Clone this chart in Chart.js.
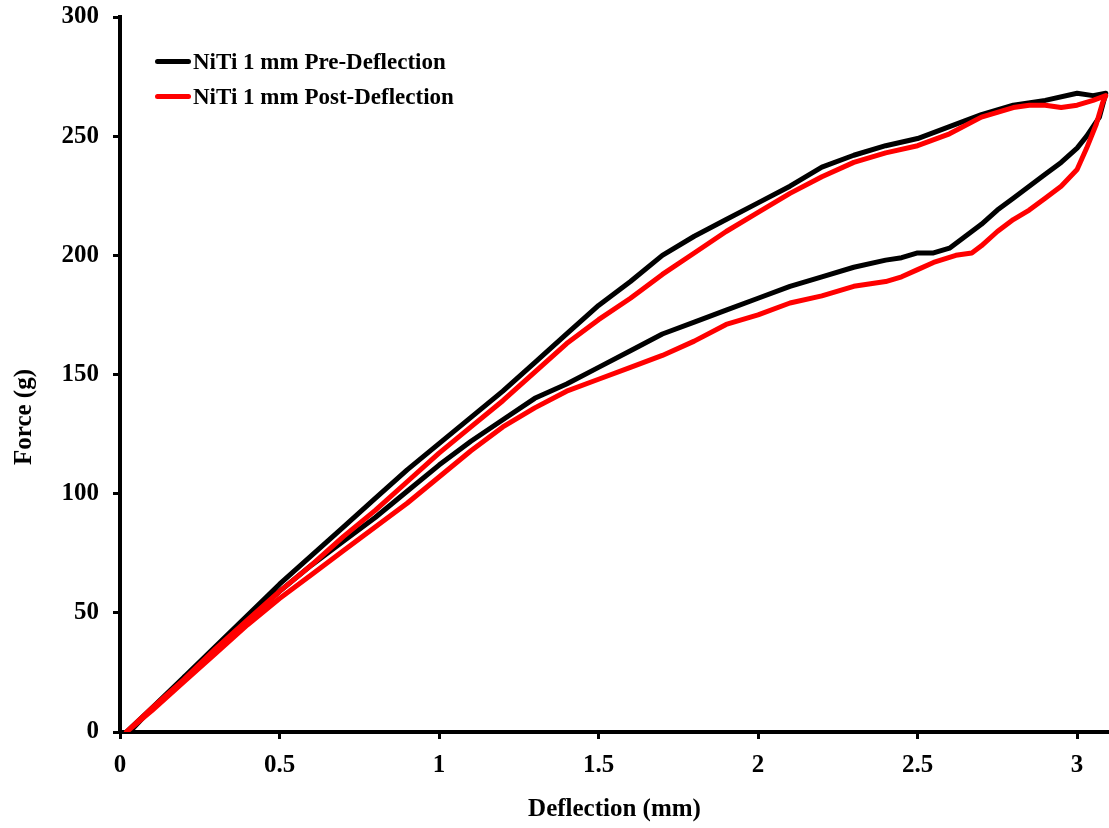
<!DOCTYPE html>
<html>
<head>
<meta charset="utf-8">
<script src="https://cdn.jsdelivr.net/npm/chart.js@4"></script>
<style>
    body { margin: 0; background: #fff; }
    #wrap { position: relative; width: 1109px; height: 828px; }
    #legend { position: absolute; left: 155px; top: 44px; font-family: 'Liberation Serif', 'Times New Roman', serif; font-weight: bold; font-size: 23px; }
    .leg-row { display: flex; align-items: center; height: 35px; white-space: nowrap; }
    .leg-line { width: 36px; height: 5px; border-radius: 3px; margin-right: 2px; }
    #ytitle { position: absolute; left: 23px; top: 417px; transform: translate(-50%, -50%) rotate(-90deg);
        font-family: 'Liberation Serif', 'Times New Roman', serif; font-weight: bold; font-size: 25px; white-space: nowrap; }
</style>
</head>
<body>
<div id="wrap">
    <canvas id="chart" width="1109" height="828"></canvas>
    <div id="legend"></div>
    <div id="ytitle"></div>
</div>
<script>
let seriesNames = ['NiTi 1 mm Pre-Deflection', 'NiTi 1 mm Post-Deflection'];
let seriesColors = ['#000000', '#ff0000'];
let xTitle = 'Deflection (mm)';
let yTitle = 'Force (g)';
let xTickLabels = ['0', '0.5', '1', '1.5', '2', '2.5', '3'];
let yTickLabels = ['0', '50', '100', '150', '200', '250', '300'];

// loading branch followed by unloading branch (one closed loop per series)
let preX = [0.02, 0.1, 0.2, 0.3, 0.4, 0.5, 0.6, 0.7, 0.8, 0.9, 1.0, 1.1, 1.2, 1.3, 1.4, 1.5, 1.6, 1.7, 1.8, 1.9, 2.0, 2.1, 2.2, 2.3, 2.4, 2.5, 2.6, 2.7, 2.8, 2.9, 3.0, 3.05, 3.09,
    3.07, 3.03, 3.0, 2.95, 2.9, 2.85, 2.8, 2.75, 2.7, 2.65, 2.6, 2.55, 2.5, 2.45, 2.4, 2.3, 2.2, 2.1, 2.0, 1.9, 1.8, 1.7, 1.6, 1.5, 1.4, 1.3, 1.2, 1.1, 1.0, 0.9, 0.8, 0.7, 0.6, 0.5, 0.4, 0.3, 0.2, 0.1, 0.03];
let preY = [0, 10, 23, 36, 49, 62, 74, 86, 98, 110, 121, 132, 143, 155, 167, 179, 189, 200, 208, 215, 222, 229, 237, 242, 246, 249, 254, 259, 263, 265, 268, 267, 268,
    258, 250, 245, 239, 234, 229, 224, 219, 213, 208, 203, 201, 201, 199, 198, 195, 191, 187, 182, 177, 172, 167, 160, 153, 146, 140, 131, 122, 112, 101, 90, 80, 70, 59, 47, 35, 23, 10, 0];

let postX = [0.02, 0.1, 0.2, 0.3, 0.4, 0.5, 0.6, 0.7, 0.8, 0.9, 1.0, 1.1, 1.2, 1.3, 1.4, 1.5, 1.6, 1.7, 1.8, 1.9, 2.0, 2.1, 2.2, 2.3, 2.4, 2.5, 2.6, 2.7, 2.8, 2.85, 2.9, 2.95, 3.0, 3.05, 3.09,
    3.08, 3.06, 3.03, 3.0, 2.95, 2.9, 2.85, 2.8, 2.75, 2.7, 2.67, 2.62, 2.55, 2.5, 2.45, 2.4, 2.3, 2.2, 2.1, 2.0, 1.9, 1.8, 1.7, 1.6, 1.5, 1.4, 1.3, 1.2, 1.1, 1.0, 0.9, 0.8, 0.7, 0.6, 0.5, 0.4, 0.3, 0.2, 0.1, 0.02];
let postY = [0, 10, 22, 35, 47, 59, 70, 82, 93, 105, 117, 128, 139, 151, 163, 173, 182, 192, 201, 210, 218, 226, 233, 239, 243, 246, 251, 258, 262, 263, 263, 262, 263, 265, 267,
    264, 255, 245, 236, 229, 224, 219, 215, 210, 204, 201, 200, 197, 194, 191, 189, 187, 183, 180, 175, 171, 164, 158, 153, 148, 143, 136, 128, 118, 107, 96, 86, 76, 66, 56, 45, 33, 21, 9, 0];

const fontFamily = "'Liberation Serif', 'Times New Roman', serif";

function toPoints(xs, ys) {
    let pts = [];
    for (let i = 0; i < xs.length; i++) {
        pts.push({ x: xs[i], y: ys[i] });
    }
    return pts;
}

function renderLegend() {
    let html = '';
    for (let i = 0; i < seriesNames.length; i++) {
        html += `<div class="leg-row"><span class="leg-line" style="background:${seriesColors[i]}"></span>${seriesNames[i]}</div>`;
    }
    document.getElementById('legend').innerHTML = html;
    document.getElementById('ytitle').textContent = yTitle;
}

function drawChart() {
    const ctx = document.getElementById('chart');
    new Chart(ctx, {
        type: 'scatter',
        data: {
            datasets: [{
                label: seriesNames[0],
                data: toPoints(preX, preY),
                borderColor: seriesColors[0],
                order: 2
            }, {
                label: seriesNames[1],
                data: toPoints(postX, postY),
                borderColor: seriesColors[1],
                order: 1
            }]
        },
        options: {
            responsive: false,
            animation: false,
            showLine: true,
            layout: { padding: { top: 17, right: 0, left: 0, bottom: 0 } },
            elements: {
                point: { radius: 0 },
                line: { borderWidth: 5, tension: 0, borderJoinStyle: 'round', borderCapStyle: 'round' }
            },
            plugins: { legend: { display: false }, tooltip: { enabled: false } },
            scales: {
                x: {
                    type: 'linear', min: 0, max: 3.1,
                    afterFit: (s) => { s.height = 96; s.paddingLeft = 0; s.paddingRight = 0; },
                    border: { color: '#000', width: 4 },
                    grid: { drawOnChartArea: false, color: '#000', tickLength: 7, tickWidth: 3 },
                    ticks: {
                        stepSize: 0.5, includeBounds: false, padding: 12, color: '#000',
                        font: { family: fontFamily, weight: 'bold', size: 25 },
                        callback: (v) => xTickLabels[Math.round(v / 0.5)]
                    },
                    title: {
                        display: true, text: xTitle, color: '#000', padding: { top: 0, bottom: 3 },
                        font: { family: fontFamily, weight: 'bold', size: 25 }
                    }
                },
                y: {
                    min: 0, max: 300,
                    afterFit: (s) => { s.width = 120; s.paddingTop = 0; s.paddingBottom = 0; },
                    border: { color: '#000', width: 4 },
                    grid: { drawOnChartArea: false, color: '#000', tickLength: 7, tickWidth: 3 },
                    ticks: {
                        stepSize: 50, padding: 14, color: '#000',
                        font: { family: fontFamily, weight: 'bold', size: 25 },
                        callback: (v) => yTickLabels[Math.round(v / 50)]
                    }
                }
            }
        }
    });
}

renderLegend();
drawChart();
</script>
</body>
</html>
